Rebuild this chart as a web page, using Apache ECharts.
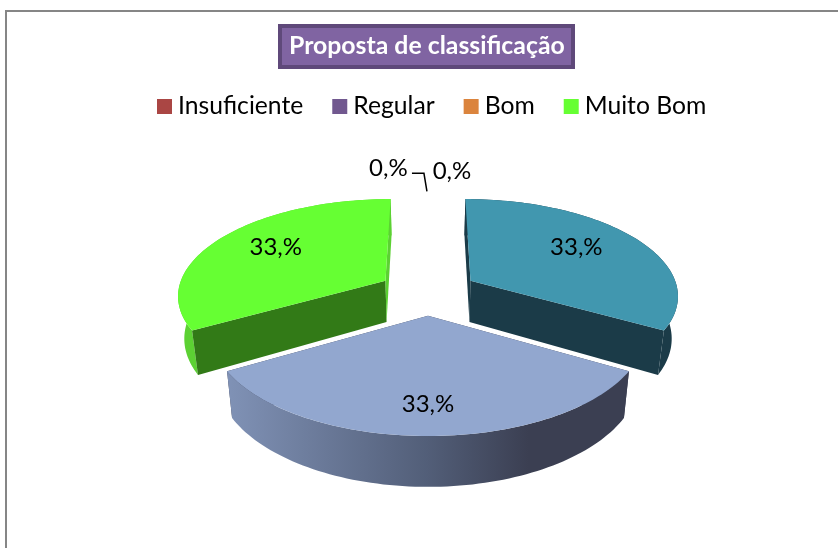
<!DOCTYPE html>
<html>
<head>
<meta charset="utf-8">
<script src="https://cdn.jsdelivr.net/npm/echarts@6/dist/echarts.min.js"></script>
<style>
html, body { margin: 0; background: #fff; }
#frame { position: absolute; left: 5px; top: 10px; width: 833px; height: 538px; box-sizing: border-box; border-top: 2px solid #868686; border-left: 2px solid #868686; }
#chart { position: absolute; left: 0; top: 0; width: 838px; height: 548px; }
</style>
</head>
<body>
<div id="frame"></div>
<div id="chart"></div>
<script>
// dados
var categories = ['Insuficiente', 'Regular', 'Bom', 'Muito Bom'];
var legendColors = ['#AA4644', '#71588F', '#DB843D', '#66FF33'];
var sliceValues = [33, 33, 33, 0, 0];

// cores de cada fatia: topo, parede, corte, corte fino
var topColors = ['#4197AF', '#92A7CF', '#66FF33', '#000', '#000'];
var wallColors = ['#1B3B48', null, '#5CD133', '#000', '#000'];
var cutColors = ['#1B3B48', '#3B3F52', '#327A17', '#000', '#000'];
var sliverColors = ['#1B3B48', '#3B3F52', '#5CD133', '#000', '#000'];

// posicao dos rotulos sobre o prato (angulo em graus, raio relativo)
var labelAngles = [55.5, 180, 303.5, 6.2, -9.9];
var labelRadius = [0.674, 0.765, 0.69, 1.294, 1.352];

// perspectiva do prato 3D
var view = { cx: 428, cy: 292, a: 208, b: 96, persp: 0.14, explode: 0.24, depth: 42, shrink: 0.975 };
var FONT = 'Lato';

function project(x, y) {
    var w = 1 + view.persp * y;
    return [view.cx + view.a * x / w, view.cy - view.b * y / w];
}

function lower(p, y) {
    var w = 1 + view.persp * y;
    return [view.cx + (p[0] - view.cx) * view.shrink, p[1] + view.depth / w];
}

function renderSlice(params, api) {
    var total = sliceValues.reduce(function (s, v) { return s + v; }, 0);
    var before = 0;
    for (var i = 0; i < params.dataIndex; i++) {
        before += sliceValues[i];
    }
    var idx = params.dataIndex;
    var value = api.value(0);
    var start = before / total * Math.PI * 2;
    var end = (before + value) / total * Math.PI * 2;
    var mid = (start + end) / 2;
    var ox = Math.sin(mid) * view.explode;
    var oy = Math.cos(mid) * view.explode;
    var children = [];

    if (value > 0) {
        var rim = [], rimLow = [];
        for (var k = 0; k <= 80; k++) {
            var t = start + (end - start) * k / 80;
            var gx = ox + Math.sin(t), gy = oy + Math.cos(t);
            var p = project(gx, gy);
            rim.push(p);
            rimLow.push(lower(p, gy));
        }
        var apex = project(ox, oy);
        var apexLow = lower(apex, oy);
        var ref = rim[40];

        var faces = [
            { tip: rim[0], tipLow: rimLow[0], color: Math.abs(start) < 1e-6 ? sliverColors[idx] : cutColors[idx] },
            { tip: rim[80], tipLow: rimLow[80], color: Math.abs(end - Math.PI * 2) < 1e-6 ? sliverColors[idx] : cutColors[idx] }
        ];
        var hidden = [], shown = [];
        faces.forEach(function (f) {
            var lineY = apex[1] + (f.tip[1] - apex[1]) * (ref[0] - apex[0]) / (f.tip[0] - apex[0]);
            var el = {
                type: 'polygon',
                shape: { points: [apex, f.tip, f.tipLow, apexLow] },
                style: { fill: f.color }
            };
            (ref[1] < lineY ? shown : hidden).push(el);
        });

        var wallFill = wallColors[idx] || new echarts.graphic.LinearGradient(0, 0, 1, 0, [
            { offset: 0, color: '#8092B6' },
            { offset: 0.5, color: '#525E78' },
            { offset: 0.75, color: '#3B3F52' },
            { offset: 1, color: '#3B3F52' }
        ]);
        var wall = {
            type: 'polygon',
            shape: { points: rim.concat(rimLow.slice().reverse()) },
            style: { fill: wallFill }
        };
        var top = {
            type: 'polygon',
            shape: { points: [apex].concat(rim) },
            style: { fill: topColors[idx] }
        };
        children = hidden.concat([wall], shown, [top]);
    }

    var la = labelAngles[idx] * Math.PI / 180;
    var lp = project(ox + Math.sin(la) * labelRadius[idx], oy + Math.cos(la) * labelRadius[idx]);
    children.push({
        type: 'text',
        style: {
            x: lp[0], y: lp[1], text: value + ',%',
            fill: '#000', font: '24px ' + FONT, align: 'center', verticalAlign: 'middle'
        }
    });
    // linha de chamada so no segundo rotulo zero
    if (idx === 3) {
        children.push({
            type: 'polyline',
            shape: { points: [[lp[0] - 40, lp[1] + 2], [lp[0] - 28, lp[1] + 2], [lp[0] - 25, lp[1] + 20]] },
            style: { fill: null, stroke: '#000', lineWidth: 1.5 }
        });
    }
    return { type: 'group', children: children };
}

var myChart = echarts.init(document.getElementById('chart'), null, { renderer: 'canvas' });

var legendSeries = categories.map(function (name, i) {
    return {
        type: 'custom',
        name: name,
        coordinateSystem: 'none',
        itemStyle: { color: legendColors[i] },
        data: [],
        renderItem: function () { return null; }
    };
});

myChart.setOption({
    animation: false,
    title: {
        text: 'Proposta de classificação',
        left: 280,
        top: 26,
        padding: [6, 9, 6, 9],
        backgroundColor: '#8064A2',
        borderColor: '#5F497A',
        borderWidth: 4,
        textStyle: { color: '#fff', fontFamily: FONT, fontSize: 24.8, fontWeight: 'bold', lineHeight: 29 }
    },
    legend: {
        left: 157,
        top: 94,
        padding: 0,
        itemWidth: 15,
        itemHeight: 15,
        itemGap: 29,
        icon: 'rect',
        selectedMode: false,
        textStyle: { color: '#000', fontFamily: FONT, fontSize: 24.7, padding: [0, 0, 0, 1] },
        data: categories
    },
    series: legendSeries.concat([{
        type: 'custom',
        name: 'Proposta de classificação',
        coordinateSystem: 'none',
        silent: true,
        renderItem: renderSlice,
        data: sliceValues.map(function (v) { return [v]; })
    }])
});
</script>
</body>
</html>
